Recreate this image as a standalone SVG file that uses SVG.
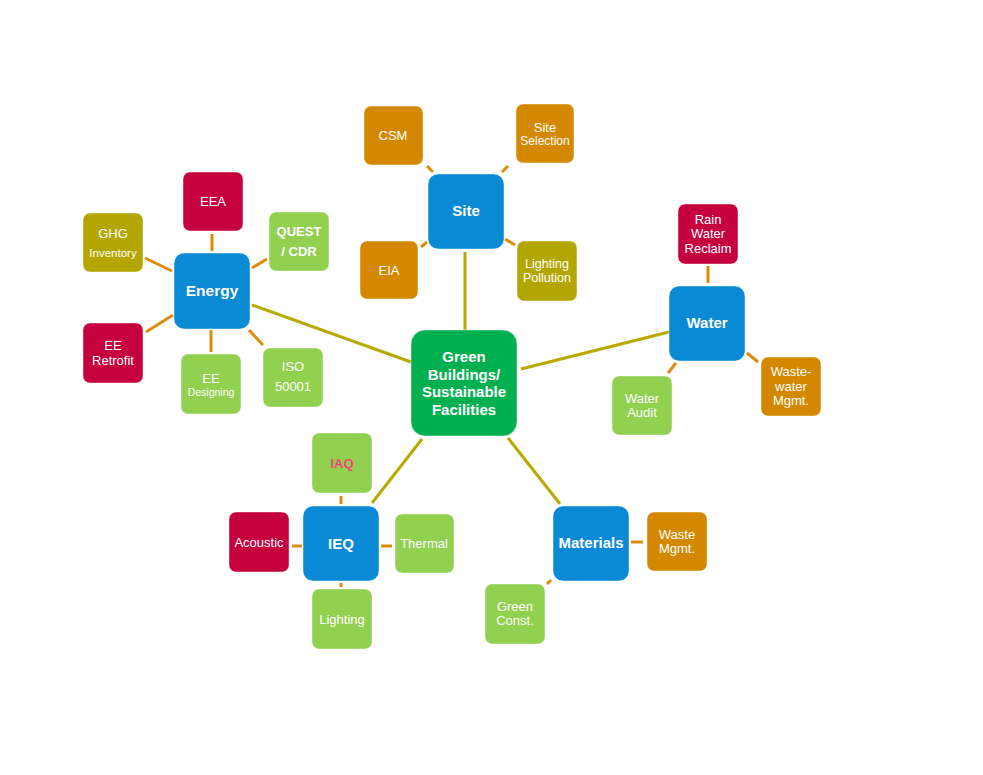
<svg xmlns="http://www.w3.org/2000/svg" width="983" height="775" viewBox="0 0 983 775">
<style>
.b{stroke:#ffffff;stroke-opacity:0.45;stroke-width:1}
.blue{fill:#0A8AD4}
.center{fill:#00B050}
.red{fill:#C6003F}
.orange{fill:#D38800}
.olive{fill:#B3A600}
.lg{fill:#92D050}
text{font-family:"Liberation Sans",Arial,sans-serif;fill:#ffffff;text-anchor:middle}
.hb{font-weight:bold;font-size:15px}
.t{font-size:13px}
.tb{font-size:13px;font-weight:bold}
.s{font-size:11.5px}
.xs{font-size:10.5px}
.co{stroke:#DD8C0C;stroke-width:3;fill:none}
.cm{stroke:#B8AA00;stroke-width:3;fill:none}
</style>
<rect width="983" height="775" fill="#ffffff"/>
<g id="connectors">
<line class="cm" x1="252" y1="305" x2="411" y2="362"/>
<line class="cm" x1="465" y1="252" x2="465" y2="330"/>
<line class="cm" x1="521" y1="369" x2="669" y2="332"/>
<line class="cm" x1="372" y1="503" x2="422" y2="439"/>
<line class="cm" x1="508" y1="438" x2="560" y2="504"/>
<line class="co" x1="212" y1="234" x2="212" y2="251"/>
<line class="co" x1="145" y1="258" x2="172" y2="271"/>
<line class="co" x1="252" y1="268" x2="267" y2="259"/>
<line class="co" x1="146" y1="332" x2="173" y2="315"/>
<line class="co" x1="211" y1="330" x2="211" y2="352"/>
<line class="co" x1="249" y1="330" x2="263" y2="345"/>
<line class="co" x1="427" y1="166" x2="433" y2="172"/>
<line class="co" x1="502" y1="172" x2="508" y2="166"/>
<line class="co" x1="421" y1="247" x2="427" y2="242"/>
<line class="co" x1="505" y1="239" x2="515" y2="245"/>
<line class="co" x1="708" y1="266" x2="708" y2="283"/>
<line class="co" x1="668" y1="373" x2="676" y2="363"/>
<line class="co" x1="747" y1="353" x2="758" y2="362"/>
<line class="co" x1="341" y1="496" x2="341" y2="504"/>
<line class="co" x1="292" y1="546" x2="302" y2="546"/>
<line class="co" x1="381" y1="546" x2="392" y2="546"/>
<line class="co" x1="341" y1="583" x2="341" y2="587"/>
<line class="co" x1="631" y1="542" x2="643" y2="542"/>
<line class="co" x1="547" y1="584" x2="551" y2="580"/>
</g>
<g id="center">
<rect class="b center" x="411" y="330" width="106" height="106" rx="14"/>
<text class="hb" x="464" y="362">Green</text>
<text class="hb" x="464" y="380">Buildings/</text>
<text class="hb" x="464" y="397">Sustainable</text>
<text class="hb" x="464" y="415">Facilities</text>
</g>
<g id="energy">
<rect class="b blue" x="174" y="253" width="76" height="76" rx="10"/>
<text class="hb" x="212" y="296" style="font-size:15.5px">Energy</text>
</g>
<g id="eea">
<rect class="b red" x="183" y="172" width="60" height="59" rx="7"/>
<text class="t" x="213" y="206">EEA</text>
</g>
<g id="ghg">
<rect class="b olive" x="83" y="213" width="60" height="59" rx="7"/>
<text class="t" x="113" y="238">GHG</text>
<text class="s" x="113" y="257">Inventory</text>
</g>
<g id="quest">
<rect class="b lg" x="269" y="212" width="60" height="59" rx="7"/>
<text class="tb" x="299" y="236">QUEST</text>
<text class="tb" x="299" y="256">/ CDR</text>
</g>
<g id="ee-retrofit">
<rect class="b red" x="83" y="323" width="60" height="60" rx="7"/>
<text class="t" x="113" y="350">EE</text>
<text class="t" x="113" y="365">Retrofit</text>
</g>
<g id="ee-designing">
<rect class="b lg" x="181" y="354" width="60" height="60" rx="7"/>
<text class="t" x="211" y="383">EE</text>
<text class="xs" x="211" y="396">Designing</text>
</g>
<g id="iso">
<rect class="b lg" x="263" y="348" width="60" height="59" rx="7"/>
<text class="t" x="293" y="371">ISO</text>
<text class="t" x="293" y="391">50001</text>
</g>
<g id="site">
<rect class="b blue" x="428" y="174" width="76" height="75" rx="10"/>
<text class="hb" x="466" y="216">Site</text>
</g>
<g id="csm">
<rect class="b orange" x="364" y="106" width="59" height="59" rx="7"/>
<text class="t" x="393" y="140">CSM</text>
</g>
<g id="site-selection">
<rect class="b orange" x="516" y="104" width="58" height="59" rx="7"/>
<text class="t" x="545" y="132">Site</text>
<text x="545" y="145" style="font-size:12px">Selection</text>
</g>
<g id="eia">
<rect class="b orange" x="360" y="241" width="58" height="58" rx="7"/>
<text class="t" x="389" y="275">EIA</text>
</g>
<g id="lighting-pollution">
<rect class="b olive" x="517" y="241" width="60" height="60" rx="7"/>
<text x="547" y="268" style="font-size:12.5px">Lighting</text>
<text x="547" y="282" style="font-size:12.5px">Pollution</text>
</g>
<g id="water">
<rect class="b blue" x="669" y="286" width="76" height="75" rx="10"/>
<text class="hb" x="707" y="328">Water</text>
</g>
<g id="rain-water">
<rect class="b red" x="678" y="204" width="60" height="60" rx="7"/>
<text class="t" x="708" y="224">Rain</text>
<text class="t" x="708" y="238">Water</text>
<text class="t" x="708" y="253">Reclaim</text>
</g>
<g id="water-audit">
<rect class="b lg" x="612" y="376" width="60" height="59" rx="7"/>
<text class="t" x="642" y="403">Water</text>
<text class="t" x="642" y="417">Audit</text>
</g>
<g id="wastewater">
<rect class="b orange" x="761" y="357" width="60" height="59" rx="7"/>
<text class="t" x="791" y="376">Waste-</text>
<text class="t" x="791" y="391">water</text>
<text class="t" x="791" y="405">Mgmt.</text>
</g>
<g id="ieq">
<rect class="b blue" x="303" y="506" width="76" height="75" rx="10"/>
<text class="hb" x="341" y="549">IEQ</text>
</g>
<g id="iaq">
<rect class="b lg" x="312" y="433" width="60" height="60" rx="7"/>
<text class="tb" x="342" y="468" style="fill:#F0457C">IAQ</text>
</g>
<g id="acoustic">
<rect class="b red" x="229" y="512" width="60" height="60" rx="7"/>
<text class="t" x="259" y="547">Acoustic</text>
</g>
<g id="thermal">
<rect class="b lg" x="395" y="514" width="59" height="59" rx="7"/>
<text class="t" x="424" y="548">Thermal</text>
</g>
<g id="lighting">
<rect class="b lg" x="312" y="589" width="60" height="60" rx="7"/>
<text class="t" x="342" y="624">Lighting</text>
</g>
<g id="materials">
<rect class="b blue" x="553" y="506" width="76" height="75" rx="10"/>
<text class="hb" x="591" y="548">Materials</text>
</g>
<g id="waste-mgmt">
<rect class="b orange" x="647" y="512" width="60" height="59" rx="7"/>
<text class="t" x="677" y="539">Waste</text>
<text class="t" x="677" y="553">Mgmt.</text>
</g>
<g id="green-const">
<rect class="b lg" x="485" y="584" width="60" height="60" rx="7"/>
<text class="t" x="515" y="611">Green</text>
<text class="t" x="515" y="625">Const.</text>
</g>
</svg>
